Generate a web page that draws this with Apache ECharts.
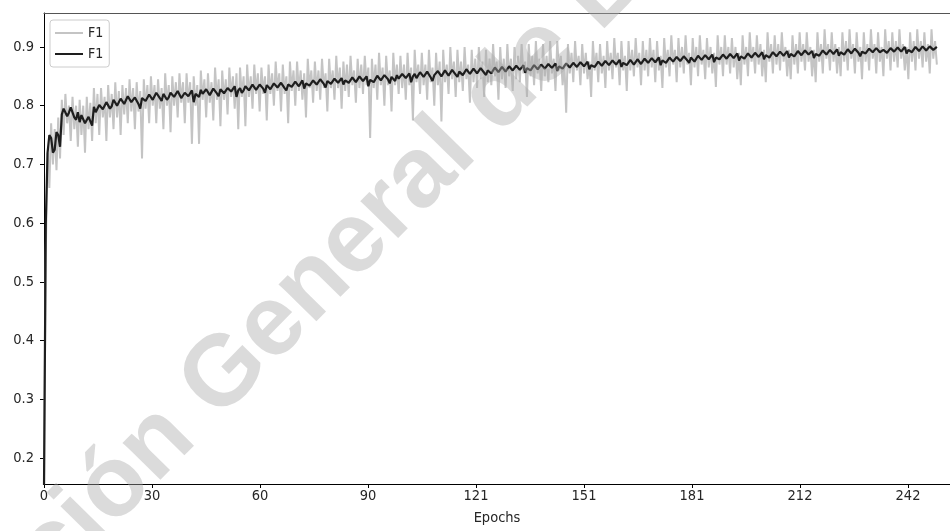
<!DOCTYPE html>
<html>
<head>
<meta charset="utf-8">
<script src="https://cdn.jsdelivr.net/npm/echarts@6/dist/echarts.min.js"></script>
<style>html,body{margin:0;padding:0;background:#fff;}#chart{width:950px;height:531px;}</style>
</head>
<body>
<div id="chart"></div>
<script>
// ---- data (per epoch: two samples, upper and lower) ----
var xTickLabels = ['0','30','60','90','121','151','181','212','242'];
var yTickValues = [0.2,0.3,0.4,0.5,0.6,0.7,0.8,0.9];
var seriesNames = ['F1','F1'];
var grayHigh = [
0.15,0.72,0.77,0.76,0.78,0.81,0.82,0.80,0.815,0.80,
0.81,0.80,0.815,0.805,0.83,0.82,0.83,0.815,0.835,0.82,
0.84,0.825,0.835,0.83,0.845,0.83,0.84,0.825,0.845,0.835,
0.85,0.835,0.845,0.83,0.855,0.835,0.85,0.84,0.855,0.84,
0.855,0.84,0.85,0.835,0.86,0.845,0.855,0.84,0.865,0.845,
0.86,0.845,0.865,0.85,0.855,0.865,0.85,0.87,0.85,0.87,
0.855,0.865,0.85,0.87,0.855,0.875,0.855,0.87,0.85,0.875,
0.86,0.875,0.86,0.855,0.88,0.86,0.875,0.86,0.88,0.855,
0.88,0.86,0.885,0.865,0.875,0.87,0.885,0.86,0.88,0.87,
0.885,0.865,0.88,0.87,0.89,0.865,0.885,0.86,0.89,0.87,
0.885,0.87,0.89,0.865,0.895,0.87,0.89,0.87,0.895,0.865,
0.89,0.875,0.895,0.87,0.90,0.875,0.895,0.875,0.90,0.87,
0.895,0.88,0.90,0.875,0.895,0.88,0.905,0.875,0.90,0.88,
0.905,0.88,0.90,0.885,0.905,0.875,0.905,0.885,0.91,0.88,
0.905,0.885,0.91,0.88,0.91,0.885,0.87,0.905,0.89,0.91,
0.885,0.905,0.89,0.875,0.91,0.89,0.905,0.885,0.91,0.89,
0.915,0.89,0.91,0.885,0.91,0.895,0.915,0.89,0.91,0.895,
0.915,0.895,0.91,0.885,0.915,0.895,0.92,0.895,0.915,0.90,
0.92,0.89,0.915,0.90,0.92,0.895,0.915,0.90,0.89,0.92,
0.90,0.92,0.90,0.915,0.90,0.89,0.92,0.90,0.925,0.90,
0.92,0.905,0.895,0.925,0.905,0.92,0.905,0.925,0.90,0.895,
0.92,0.905,0.925,0.905,0.925,0.90,0.895,0.925,0.905,0.93,
0.905,0.925,0.905,0.90,0.925,0.91,0.93,0.905,0.925,0.90,
0.925,0.905,0.93,0.905,0.925,0.90,0.93,0.91,0.925,0.91,
0.93,0.905,0.90,0.925,0.91,0.93,0.91,0.925,0.905,0.93,
0.91
];
var grayLow = [
0.55,0.66,0.70,0.69,0.71,0.75,0.77,0.74,0.76,0.73,
0.75,0.72,0.76,0.74,0.77,0.75,0.78,0.74,0.78,0.76,
0.78,0.75,0.785,0.77,0.79,0.76,0.79,0.71,0.795,0.77,
0.80,0.77,0.795,0.76,0.80,0.755,0.80,0.78,0.805,0.77,
0.805,0.735,0.80,0.735,0.81,0.78,0.805,0.775,0.81,0.765,
0.81,0.785,0.815,0.795,0.76,0.815,0.765,0.815,0.795,0.82,
0.79,0.82,0.775,0.82,0.80,0.825,0.79,0.82,0.77,0.825,
0.80,0.825,0.81,0.78,0.83,0.805,0.825,0.81,0.83,0.79,
0.83,0.81,0.83,0.795,0.825,0.815,0.835,0.805,0.83,0.82,
0.835,0.745,0.83,0.81,0.835,0.80,0.835,0.79,0.835,0.82,
0.83,0.81,0.835,0.775,0.84,0.82,0.835,0.81,0.84,0.80,
0.835,0.773,0.84,0.82,0.845,0.815,0.84,0.825,0.845,0.805,
0.84,0.83,0.845,0.815,0.84,0.835,0.85,0.81,0.845,0.83,
0.85,0.825,0.845,0.84,0.855,0.815,0.85,0.835,0.855,0.825,
0.85,0.84,0.855,0.825,0.86,0.835,0.788,0.855,0.84,0.86,
0.835,0.855,0.845,0.815,0.86,0.84,0.855,0.83,0.86,0.845,
0.865,0.835,0.86,0.825,0.86,0.85,0.865,0.835,0.86,0.85,
0.865,0.84,0.86,0.83,0.865,0.85,0.87,0.84,0.865,0.855,
0.87,0.835,0.865,0.85,0.87,0.845,0.865,0.855,0.832,0.87,
0.85,0.87,0.855,0.865,0.845,0.835,0.87,0.85,0.875,0.855,
0.87,0.85,0.84,0.875,0.855,0.87,0.86,0.875,0.85,0.845,
0.87,0.855,0.875,0.86,0.875,0.85,0.84,0.875,0.855,0.88,
0.86,0.875,0.855,0.85,0.875,0.86,0.88,0.855,0.875,0.845,
0.875,0.86,0.88,0.855,0.875,0.85,0.88,0.86,0.875,0.865,
0.88,0.86,0.845,0.875,0.86,0.88,0.865,0.875,0.855,0.88,
0.87
];
var blackA = [
0.15,0.72,0.745,0.725,0.75,0.785,0.792,0.788,0.795,0.776,
0.772,0.785,0.768,0.779,0.798,0.792,0.803,0.797,0.806,0.799,
0.808,0.802,0.811,0.806,0.815,0.803,0.812,0.795,0.816,0.81,
0.818,0.812,0.821,0.808,0.819,0.814,0.823,0.817,0.822,0.81,
0.824,0.818,0.806,0.822,0.827,0.819,0.826,0.821,0.829,0.816,
0.828,0.823,0.831,0.825,0.815,0.83,0.826,0.833,0.828,0.835,
0.829,0.836,0.822,0.834,0.83,0.838,0.832,0.837,0.826,0.839,
0.834,0.841,0.836,0.829,0.84,0.835,0.842,0.838,0.844,0.831,
0.843,0.838,0.845,0.84,0.836,0.846,0.841,0.848,0.843,0.849,
0.844,0.833,0.847,0.843,0.85,0.845,0.851,0.838,0.848,0.852,
0.846,0.853,0.849,0.84,0.854,0.85,0.856,0.851,0.855,0.842,
0.853,0.857,0.852,0.858,0.854,0.86,0.849,0.858,0.855,0.861,
0.856,0.862,0.858,0.863,0.852,0.861,0.857,0.864,0.86,0.865,
0.859,0.866,0.862,0.867,0.863,0.856,0.866,0.862,0.868,0.864,
0.869,0.865,0.87,0.866,0.859,0.869,0.865,0.871,0.867,0.872,
0.868,0.873,0.869,0.862,0.872,0.868,0.874,0.87,0.875,0.871,
0.876,0.872,0.866,0.875,0.871,0.877,0.873,0.878,0.874,0.879,
0.875,0.88,0.876,0.869,0.879,0.875,0.881,0.877,0.882,0.878,
0.883,0.873,0.881,0.877,0.884,0.88,0.885,0.881,0.874,0.884,
0.88,0.886,0.882,0.887,0.883,0.877,0.886,0.882,0.888,0.884,
0.889,0.885,0.879,0.888,0.884,0.89,0.886,0.891,0.887,0.882,
0.89,0.886,0.892,0.888,0.893,0.887,0.881,0.891,0.887,0.893,
0.889,0.894,0.89,0.885,0.893,0.889,0.895,0.891,0.896,0.884,
0.894,0.89,0.896,0.892,0.897,0.888,0.895,0.891,0.897,0.893,
0.898,0.894,0.889,0.897,0.893,0.899,0.895,0.90,0.896,0.898,
0.897
];
var blackB = [
0.60,0.75,0.72,0.755,0.73,0.795,0.782,0.797,0.78,0.789,
0.784,0.77,0.781,0.766,0.789,0.801,0.794,0.806,0.795,0.81,
0.80,0.812,0.803,0.816,0.806,0.814,0.803,0.813,0.808,0.819,
0.81,0.822,0.813,0.82,0.81,0.822,0.815,0.825,0.813,0.822,
0.816,0.826,0.82,0.815,0.82,0.828,0.818,0.829,0.821,0.828,
0.821,0.83,0.824,0.833,0.826,0.822,0.833,0.826,0.836,0.827,
0.836,0.829,0.835,0.828,0.838,0.831,0.839,0.83,0.836,0.832,
0.841,0.833,0.843,0.838,0.834,0.843,0.836,0.845,0.837,0.842,
0.837,0.846,0.839,0.847,0.843,0.839,0.848,0.84,0.85,0.842,
0.85,0.844,0.84,0.851,0.843,0.852,0.845,0.849,0.842,0.846,
0.854,0.847,0.855,0.85,0.847,0.857,0.849,0.858,0.848,0.852,
0.859,0.85,0.86,0.851,0.861,0.853,0.858,0.852,0.862,0.854,
0.863,0.855,0.864,0.856,0.86,0.855,0.865,0.857,0.866,0.858,
0.867,0.86,0.868,0.861,0.869,0.864,0.86,0.869,0.862,0.87,
0.863,0.871,0.864,0.872,0.867,0.863,0.872,0.865,0.873,0.866,
0.874,0.867,0.875,0.869,0.866,0.875,0.868,0.876,0.869,0.877,
0.87,0.878,0.873,0.869,0.878,0.87,0.879,0.871,0.88,0.873,
0.881,0.874,0.882,0.877,0.873,0.882,0.875,0.883,0.876,0.884,
0.877,0.882,0.875,0.885,0.878,0.886,0.879,0.887,0.882,0.879,
0.887,0.88,0.888,0.881,0.889,0.884,0.88,0.889,0.882,0.89,
0.883,0.891,0.886,0.882,0.891,0.884,0.892,0.885,0.893,0.888,
0.884,0.893,0.886,0.894,0.887,0.893,0.888,0.885,0.894,0.887,
0.895,0.888,0.896,0.891,0.887,0.896,0.889,0.897,0.89,0.892,
0.889,0.897,0.891,0.898,0.891,0.895,0.89,0.898,0.892,0.899,
0.892,0.90,0.895,0.891,0.90,0.893,0.901,0.894,0.901,0.895,
0.90
];
var watermarkText = 'Dirección General de Bibliotecas';

// ---- chart ----
var TICK_STEP = 30.3;
var xTickPositions = xTickLabels.map(function (l, i) { return +(i * TICK_STEP).toFixed(2); });
// each epoch i carries two samples: first array at i, second at i + 0.5
function interleave(a, b) {
  var out = [];
  for (var i = 0; i < a.length; i++) { out.push([i, a[i]]); out.push([i + 0.5, b[i]]); }
  return out;
}
var FONT = "'DejaVu Sans Condensed', 'Liberation Sans Narrow', 'DejaVu Sans', sans-serif";
var nameGray = seriesNames[0], nameBlack = seriesNames[1] + '\u200b';

var chart = echarts.init(document.getElementById('chart'), null, { renderer: 'canvas' });
chart.setOption({
  animation: false,
  backgroundColor: '#ffffff',
  grid: { left: 44, top: 13, width: 926, height: 472, containLabel: false },
  legend: {
    orient: 'vertical', left: 50, top: 20,
    data: [{ name: nameGray }, { name: nameBlack }],
    formatter: function (n) { return n.replace('\u200b', ''); },
    icon: 'rect', itemWidth: 28, itemHeight: 2, itemGap: 7, itemTextGap: 10,
    padding: [6, 6, 6, 5],
    borderColor: '#cccccc', borderWidth: 1, borderRadius: 3,
    backgroundColor: 'rgba(255,255,255,0.85)',
    textStyle: { fontFamily: FONT, fontSize: 14, lineHeight: 14, color: '#262626' }
  },
  xAxis: [{
    type: 'value', min: 0, max: 926 / 3.643, position: 'bottom',
    name: 'Epochs', nameLocation: 'middle', nameGap: 27,
    nameTextStyle: { fontFamily: FONT, fontSize: 14.5, color: '#262626' },
    axisLine: { show: true, onZero: false, lineStyle: { color: '#000', width: 1 } },
    axisTick: { show: true, length: 4, customValues: xTickPositions, lineStyle: { color: '#000' } },
    axisLabel: {
      customValues: xTickPositions, margin: 5,
      fontFamily: FONT, fontSize: 14.5, color: '#262626',
      formatter: function (v) { var k = Math.round(v / TICK_STEP); return xTickLabels[k] !== undefined ? xTickLabels[k] : ''; }
    },
    splitLine: { show: false }
  }, {
    type: 'value', min: 0, max: 926 / 3.643, position: 'top',
    axisLine: { show: true, onZero: false, lineStyle: { color: '#555', width: 1.2 } },
    axisTick: { show: false }, axisLabel: { show: false }, splitLine: { show: false }
  }],
  yAxis: {
    type: 'value', min: 0.1558, max: 0.9578,
    axisLine: { show: true, onZero: false, lineStyle: { color: '#000', width: 1 } },
    axisTick: { show: true, length: 4, customValues: yTickValues, lineStyle: { color: '#000' } },
    axisLabel: {
      customValues: yTickValues, margin: 10,
      fontFamily: FONT, fontSize: 14.5, color: '#262626',
      formatter: function (v) { return v.toFixed(1); }
    },
    splitLine: { show: false }
  },
  series: [{
    name: nameGray, type: 'line', data: interleave(grayHigh, grayLow),
    showSymbol: false, symbol: 'none', clip: true,
    color: '#c4c4c4', lineStyle: { color: '#c4c4c4', width: 2 }, z: 2
  }, {
    name: nameBlack, type: 'line', data: interleave(blackA, blackB),
    showSymbol: false, symbol: 'none', clip: true,
    color: '#1e1e1e', lineStyle: { color: '#1e1e1e', width: 2.2 }, z: 3
  }],
  graphic: [{
    type: 'text', x: -105, y: 782, rotation: 45.5 * Math.PI / 180, z: 100, silent: true,
    style: {
      text: watermarkText, fontFamily: "'Liberation Sans', Arial, sans-serif",
      fontWeight: 'bold', fontSize: 100,
      fill: 'rgba(170,170,170,0.42)', align: 'left', verticalAlign: 'bottom'
    }
  }]
});
</script>
</body>
</html>
